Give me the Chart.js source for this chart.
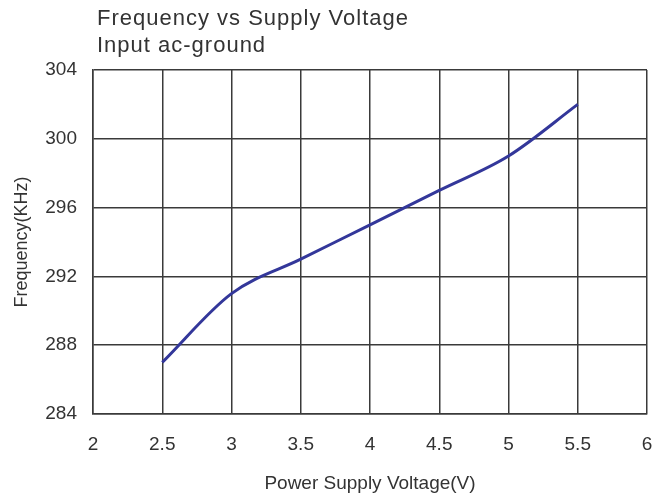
<!DOCTYPE html>
<html>
<head>
<meta charset="utf-8">
<title>Frequency vs Supply Voltage</title>
<script src="https://cdn.jsdelivr.net/npm/chart.js@4.4.1/dist/chart.umd.min.js"></script>
<style>
    html, body { margin: 0; padding: 0; background: #fff; }
    #freqChart { display: block; }
</style>
</head>
<body>
<canvas id="freqChart" width="665" height="498"></canvas>
<script>
// supply voltage (V) and measured oscillator frequency (KHz)
const voltage = [2.5, 3, 3.5, 4, 4.5, 5, 5.5];
const frequency = [287, 291, 293, 295, 297, 299, 302];

const xTickLabels = ["2", "2.5", "3", "3.5", "4", "4.5", "5", "5.5", "6"];
const yTickLabels = ["284", "288", "292", "296", "300", "304"];

const titleLines = ["Frequency vs Supply Voltage", "Input ac-ground"];

const textColor = "#333333";
const gridColor = "#3a3a3a";
const fontFamily = "'Liberation Sans', Arial, sans-serif";

// two-line heading drawn flush with the plot's left edge
const headingPlugin = {
    id: "heading",
    afterDraw(chart) {
        const ctx = chart.ctx;
        ctx.save();
        ctx.fillStyle = textColor;
        ctx.font = "22px " + fontFamily;
        ctx.letterSpacing = "1px";
        ctx.textAlign = "left";
        ctx.textBaseline = "alphabetic";
        titleLines.forEach((line, i) => {
            ctx.fillText(line, 97, 25 + i * 27);
        });
        ctx.restore();
    }
};

const ctx = document.getElementById("freqChart").getContext("2d");
const freqChart = new Chart(ctx, {
    type: "line",
    data: {
        datasets: [
            {
                label: "Frequency",
                data: voltage.map((v, i) => ({ x: v, y: frequency[i] })),
                borderColor: "#33379a",
                borderWidth: 3,
                pointRadius: 0,
                fill: false,
                cubicInterpolationMode: "monotone",
            },
        ],
    },
    options: {
        responsive: false,
        animation: false,
        layout: {
            padding: { top: 70, right: 18, left: 0, bottom: 0 }
        },
        plugins: {
            legend: { display: false },
            tooltip: { enabled: false },
            title: { display: false }
        },
        scales: {
            x: {
                type: "linear",
                min: 2,
                max: 6,
                afterFit: (scale) => {
                    scale.height = 84;
                    // tick padding would otherwise widen the right margin
                    scale.paddingRight = 0;
                },
                ticks: {
                    stepSize: 0.5,
                    padding: 19,
                    color: textColor,
                    font: { family: fontFamily, size: 19 },
                    callback: (value, index) => xTickLabels[index],
                },
                grid: {
                    color: gridColor,
                    lineWidth: 1.5,
                    drawTicks: false,
                },
                border: { color: gridColor, width: 1.5 },
                title: {
                    display: true,
                    text: "Power Supply Voltage(V)",
                    color: textColor,
                    font: { family: fontFamily, size: 19 },
                    padding: { top: 0, bottom: 3 },
                },
            },
            y: {
                min: 284,
                max: 304,
                afterFit: (scale) => { scale.width = 93; },
                ticks: {
                    stepSize: 4,
                    padding: 16,
                    color: textColor,
                    font: { family: fontFamily, size: 19 },
                    callback: (value, index) => yTickLabels[index],
                },
                grid: {
                    color: gridColor,
                    lineWidth: 1.5,
                    drawTicks: false,
                },
                border: { color: gridColor, width: 1.5 },
                title: {
                    display: true,
                    text: "Frequency(KHz)",
                    color: textColor,
                    font: { family: fontFamily, size: 18 },
                    padding: { top: 11, bottom: 0 },
                },
            },
        },
    },
    plugins: [headingPlugin],
});
</script>
</body>
</html>
